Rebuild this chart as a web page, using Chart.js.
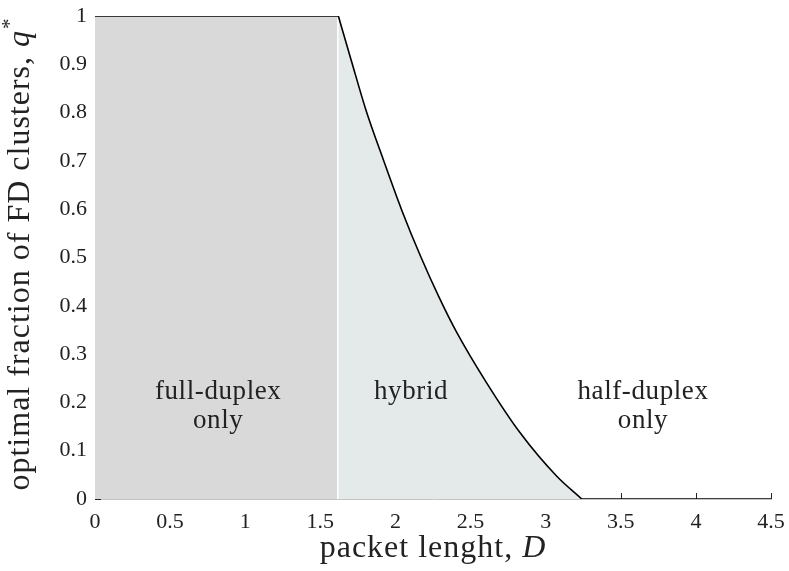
<!DOCTYPE html>
<html>
<head>
<meta charset="utf-8">
<script src="https://cdn.jsdelivr.net/npm/chart.js@4"></script>
<style>
  body { margin: 0; background: #fff; }
  #wrap { width: 789px; height: 571px; }
</style>
</head>
<body>
<div id="wrap"><canvas id="mycanvas" width="789" height="571"></canvas></div>
<script>
// optimal q* against packet length D
var curveD = [1.62, 1.705, 1.804, 1.920, 2.042, 2.168, 2.290, 2.408, 2.608, 2.830, 3.074, 3.240];
var curveQ = [1, 0.909, 0.805, 0.702, 0.598, 0.502, 0.418, 0.345, 0.240, 0.137, 0.047, 0];

// region limits
var fdOnlyEnd = 1.612;   // full-duplex only below this length
var dMax = 4.5;

// tick values
var xTicks = [0, 0.5, 1, 1.5, 2, 2.5, 3, 3.5, 4, 4.5];
var yTicks = [0, 0.1, 0.2, 0.3, 0.4, 0.5, 0.6, 0.7, 0.8, 0.9, 1];

// region captions (D, q of each line)
var regionText = [["full-duplex", "only"], ["hybrid"], ["half-duplex", "only"]];
var regionD = [0.82, 2.104, 3.648];
var regionQ = [[0.2215, 0.161], [0.2215], [0.2215, 0.161]];

var serif = "'Liberation Serif', 'Times New Roman', serif";
var ink = "#222";

var curvePts = [];
for (var i = 0; i < curveD.length; i++) {
  curvePts.push({ x: curveD[i], y: curveQ[i] });
}

// inward tick marks, drawn under the filled regions
var innerTicks = {
  id: "innerTicks",
  beforeDatasetsDraw: function(chart) {
    var c = chart.ctx, xs = chart.scales.x, ys = chart.scales.y, a = chart.chartArea;
    c.save();
    c.strokeStyle = "#262626";
    c.lineWidth = 1;
    c.beginPath();
    xTicks.forEach(function(v) {
      var px = Math.round(xs.getPixelForValue(v)) + 0.5;
      c.moveTo(px, a.bottom);
      c.lineTo(px, a.bottom - 6);
    });
    yTicks.forEach(function(v) {
      var py = Math.round(ys.getPixelForValue(v)) + 0.5;
      c.moveTo(a.left, py);
      c.lineTo(a.left + 6, py);
    });
    c.stroke();
    c.restore();
  }
};

// axis titles and region captions
var labels = {
  id: "labels",
  afterDraw: function(chart) {
    var c = chart.ctx, xs = chart.scales.x, ys = chart.scales.y, a = chart.chartArea;
    c.save();
    c.fillStyle = ink;
    c.textBaseline = "middle";

    // captions
    c.font = "27px " + serif;
    c.letterSpacing = "0.6px";
    c.textAlign = "center";
    regionText.forEach(function(lines, k) {
      lines.forEach(function(t, j) {
        c.fillText(t, xs.getPixelForValue(regionD[k]), ys.getPixelForValue(regionQ[k][j]));
      });
    });

    // x title: "packet lenght, D"
    c.textAlign = "left";
    c.letterSpacing = "1px";
    var f1 = "32px " + serif, f2 = "italic 32px " + serif;
    c.font = f1; var w1 = c.measureText("packet lenght, ").width;
    c.font = f2; var w2 = c.measureText("D").width;
    var x0 = (a.left + a.right) / 2 - (w1 + w2) / 2;
    c.font = f1; c.fillText("packet lenght, ", x0, 549);
    c.font = f2; c.fillText("D", x0 + w1, 549);

    // y title: "optimal fraction of FD clusters, q*"
    c.translate(21, (a.top + a.bottom) / 2 - 3);
    c.rotate(-Math.PI / 2);
    var f3 = "21px " + serif;
    c.font = f1; var t1 = c.measureText("optimal fraction of FD clusters, ").width;
    c.font = f2; var t2 = c.measureText("q").width;
    c.font = f3; var t3 = c.measureText("*").width;
    var s = -(t1 + t2 + t3) / 2;
    c.font = f1; c.fillText("optimal fraction of FD clusters, ", s, 0);
    c.font = f2; c.fillText("q", s + t1, 0);
    c.font = f3; c.fillText("*", s + t1 + t2 + 1, -11);
    c.restore();
  }
};

var ctx = document.getElementById("mycanvas");

var chart = new Chart(ctx, {
  type: "line",
  data: {
    datasets: [
      {
        label: "top",
        data: [{ x: 0, y: 1 }, { x: curveD[0], y: 1 }],
        borderColor: "#000",
        borderWidth: 1.6,
        fill: false,
        pointRadius: 0
      },
      {
        label: "bottom",
        data: [{ x: curveD[curveD.length - 1], y: 0 }, { x: dMax, y: 0 }],
        borderColor: "#000",
        borderWidth: 1.6,
        fill: false,
        pointRadius: 0
      },
      {
        label: "hybrid",
        data: curvePts,
        borderColor: "#000",
        borderWidth: 1.6,
        backgroundColor: "#e4eaea",
        fill: "origin",
        cubicInterpolationMode: "monotone",
        pointRadius: 0
      },
      {
        label: "full-duplex",
        data: [{ x: 0, y: 1 }, { x: fdOnlyEnd, y: 1 }],
        borderWidth: 0,
        backgroundColor: "#d9d9d9",
        fill: "origin",
        pointRadius: 0
      }
    ]
  },
  options: {
    responsive: false,
    animation: false,
    layout: { padding: { top: 16, right: 18, left: 0, bottom: 0 } },
    plugins: { legend: { display: false }, tooltip: { enabled: false } },
    scales: {
      x: {
        type: "linear",
        min: 0,
        max: dMax,
        afterFit: function(scale) {
          scale.height = 72;
          scale.paddingLeft = 0;
          scale.paddingRight = 0;
        },
        afterBuildTicks: function(scale) {
          scale.ticks = xTicks.map(function(v) { return { value: v }; });
        },
        grid: { display: false, drawTicks: false },
        border: { display: true, color: "#c4c4c4", width: 1 },
        ticks: {
          padding: 10,
          color: ink,
          font: { family: serif, size: 22 },
          maxRotation: 0,
          callback: function(v) { return String(v); }
        }
      },
      y: {
        type: "linear",
        min: 0,
        max: 1,
        afterFit: function(scale) {
          scale.width = 95;
          scale.paddingTop = 0;
          scale.paddingBottom = 0;
        },
        afterBuildTicks: function(scale) {
          scale.ticks = yTicks.map(function(v) { return { value: v }; });
        },
        grid: { display: false, drawTicks: false },
        border: { display: true, color: "#bdbdbd", width: 1 },
        ticks: {
          padding: 8,
          color: ink,
          font: { family: serif, size: 22 },
          callback: function(v) { return String(v); }
        }
      }
    }
  },
  plugins: [innerTicks, labels]
});
</script>
</body>
</html>
